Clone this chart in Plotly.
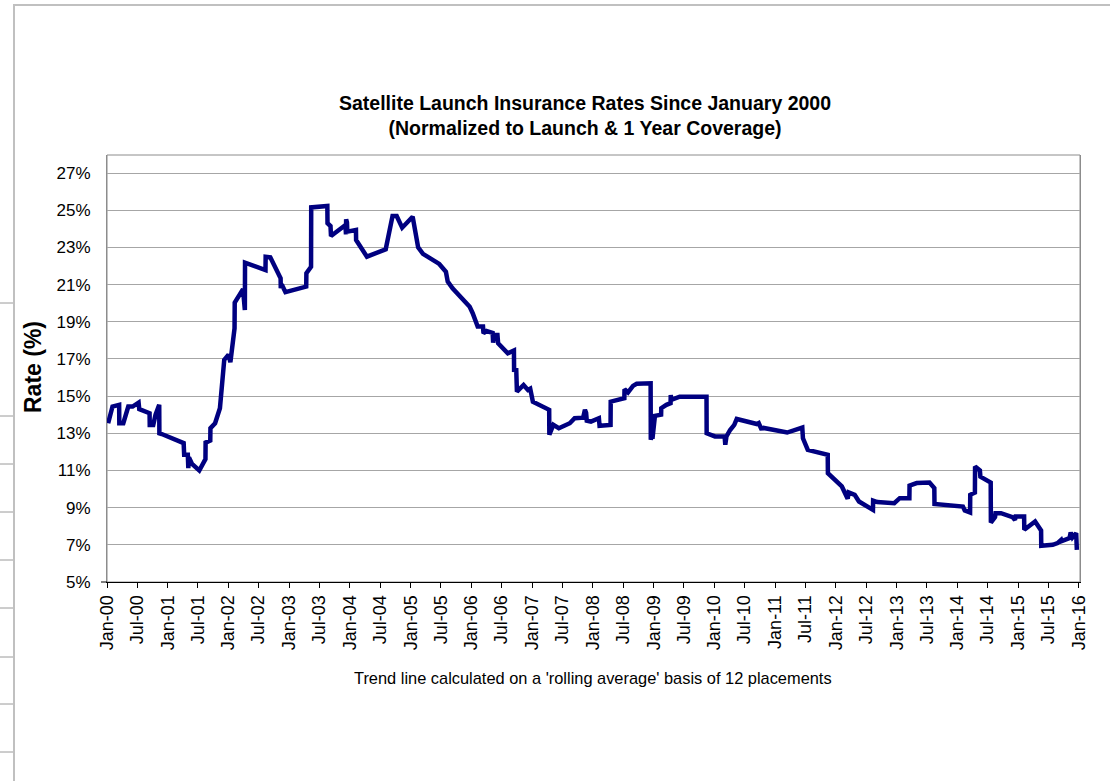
import plotly.graph_objects as go

dates = [
    "2000-01-08", "2000-02-03", "2000-03-14", "2000-03-15", "2000-04-08", "2000-05-08",
    "2000-06-03", "2000-07-09", "2000-07-13", "2000-09-13", "2000-09-14", "2000-10-05",
    "2000-10-19", "2000-11-10", "2000-11-11", "2000-11-25",
    "2001-04-06", "2001-04-09", "2001-05-01", "2001-05-04", "2001-05-08", "2001-05-26",
    "2001-07-09", "2001-08-15", "2001-08-16", "2001-09-13", "2001-09-14", "2001-10-12",
    "2001-11-10", "2001-12-06",
    "2002-01-01", "2002-01-12", "2002-02-06", "2002-02-07", "2002-03-29", "2002-04-09",
    "2002-04-10", "2002-08-11", "2002-08-12", "2002-09-09", "2002-11-10", "2002-11-11",
    "2002-11-17", "2002-12-09",
    "2003-04-13", "2003-04-14", "2003-05-12", "2003-05-13", "2003-08-18", "2003-08-19",
    "2003-09-06", "2003-09-09", "2003-11-03", "2003-12-05", "2003-12-08", "2003-12-09",
    "2003-12-14", "2003-12-16",
    "2004-02-06", "2004-02-07", "2004-04-12", "2004-08-03", "2004-09-13", "2004-10-08",
    "2004-11-10",
    "2005-01-12", "2005-02-14", "2005-03-15", "2005-06-21", "2005-07-31", "2005-08-11",
    "2005-09-09", "2005-12-21",
    "2006-01-08", "2006-01-15", "2006-02-07", "2006-03-11", "2006-03-14", "2006-04-01",
    "2006-05-08", "2006-05-11", "2006-05-15", "2006-06-06", "2006-06-10", "2006-08-07",
    "2006-09-13", "2006-09-14", "2006-09-27", "2006-10-01", "2006-11-10", "2006-12-06",
    "2006-12-20",
    "2007-01-05", "2007-04-13", "2007-04-14", "2007-05-08", "2007-06-10", "2007-08-15",
    "2007-09-13", "2007-11-03", "2007-11-14", "2007-11-21", "2007-11-25", "2007-12-20",
    "2008-02-06", "2008-02-10", "2008-04-16", "2008-04-17", "2008-07-08", "2008-07-09",
    "2008-07-30", "2008-08-29", "2008-09-20", "2008-12-13", "2008-12-14", "2008-12-20",
    "2008-12-24",
    "2009-01-08", "2009-02-14", "2009-02-15", "2009-03-18", "2009-04-12", "2009-04-13",
    "2009-04-16", "2009-06-06", "2009-11-14", "2009-11-15",
    "2010-01-04", "2010-03-03", "2010-03-07", "2010-03-14", "2010-04-05", "2010-04-30",
    "2010-05-15", "2010-09-13", "2010-09-24", "2010-10-12", "2010-10-16",
    "2011-03-14", "2011-06-13", "2011-06-17", "2011-07-16", "2011-11-13", "2011-11-14",
    "2012-02-06", "2012-03-12", "2012-03-18", "2012-04-23", "2012-05-19", "2012-08-11",
    "2012-08-12", "2012-09-06", "2012-12-17",
    "2013-01-19", "2013-03-18", "2013-03-19", "2013-05-01", "2013-07-17", "2013-08-15",
    "2013-08-16",
    "2014-02-03", "2014-02-14", "2014-03-18", "2014-03-19", "2014-04-16", "2014-04-17",
    "2014-05-16", "2014-05-19", "2014-07-20", "2014-07-21", "2014-08-15", "2014-08-18",
    "2014-09-20", "2014-11-28", "2014-12-13", "2014-12-17",
    "2015-02-06", "2015-02-07", "2015-04-13", "2015-05-19", "2015-05-20", "2015-07-28",
    "2015-08-26", "2015-09-17", "2015-09-20", "2015-11-06", "2015-11-13", "2015-11-24",
    "2015-12-16", "2015-12-20",
]

rates = [
    13.54, 14.44, 14.53, 13.54, 13.54, 14.44,
    14.44, 14.65, 14.30, 14.08, 13.45, 13.45,
    14.00, 14.53, 13.00, 12.96,
    12.47, 11.84, 11.84, 11.12, 11.70, 11.35,
    11.00, 11.61, 12.50, 12.61, 13.27, 13.54,
    14.35, 16.95,
    17.22, 16.82, 18.65, 20.03, 20.75, 19.63,
    22.18, 21.78, 22.50, 22.47, 21.34, 20.80,
    21.00, 20.59,
    20.89, 21.61, 21.96, 25.15, 25.23, 24.30,
    24.15, 23.61, 23.94, 24.20, 23.70, 24.51,
    24.35, 23.85,
    23.94, 23.40, 22.50, 22.90, 24.69, 24.69,
    24.06,
    24.65, 23.00, 22.65, 22.11, 21.69, 21.16,
    20.80, 19.81,
    19.46, 19.30, 18.74, 18.74, 18.38, 18.50,
    18.40, 17.87, 18.29, 18.29, 17.84, 17.30,
    17.45, 16.41, 16.40, 15.24, 15.60, 15.33,
    15.40,
    14.70, 14.26, 12.92, 13.45, 13.27, 13.54,
    13.81, 13.84, 14.26, 14.10, 13.68, 13.63,
    13.81, 13.40, 13.45, 14.70, 14.89, 15.37,
    15.20, 15.55, 15.66, 15.69, 12.65, 13.00,
    12.70,
    13.94, 14.00, 14.35, 14.53, 14.62, 15.06,
    14.80, 14.97, 14.97, 13.00,
    12.83, 12.83, 12.38, 12.83, 13.18, 13.45,
    13.77, 13.50, 13.55, 13.18, 13.30,
    13.04, 13.31, 12.73, 12.11, 11.84, 10.85,
    10.14, 9.48, 9.82, 9.69, 9.33, 8.88,
    9.38, 9.30, 9.24,
    9.51, 9.51, 10.19, 10.32, 10.35, 10.05,
    9.20,
    9.06, 8.85, 8.74, 9.69, 9.81, 11.21,
    11.00, 10.67, 10.35, 8.20, 8.49, 8.70,
    8.70, 8.49, 8.34, 8.52,
    8.52, 7.81, 8.25, 7.77, 6.95, 7.00,
    7.09, 7.27, 7.20, 7.36, 7.66, 7.40,
    7.63, 6.73,
]

y_ticks = [5, 7, 9, 11, 13, 15, 17, 19, 21, 23, 25, 27]

title_lines = ["Satellite Launch Insurance Rates Since January 2000",
               "(Normalized to Launch & 1 Year Coverage)"]
y_title = "Rate (%)"
footnote = "Trend line calculated on a 'rolling average' basis of 12 placements"

FONT = "Liberation Sans, Arial, sans-serif"

fig = go.Figure()
fig.add_trace(go.Scatter(
    x=dates, y=rates, mode="lines",
    line=dict(color="#000080", width=4.5),
    showlegend=False, hoverinfo="x+y",
))

L, R, T, B = 107, 30, 155, 199
W, H = 1110, 781
pw, ph = W - L - R, H - T - B


def px(xp):
    return (xp - L) / pw


def py(yp):
    return (H - B - yp) / ph


shapes = []
# outer chart border (spreadsheet chart frame)
shapes.append(dict(type="rect", xref="paper", yref="paper",
                   x0=px(14), x1=px(1125), y0=py(5), y1=py(800),
                   line=dict(color="#c0c0c0", width=2), layer="below"))
# spreadsheet cell lines at the far left
for yy in [303, 416, 464, 512, 560, 608, 657, 704, 752]:
    shapes.append(dict(type="line", xref="paper", yref="paper",
                       x0=px(0), x1=px(13), y0=py(yy), y1=py(yy),
                       line=dict(color="#9a9a9a", width=1)))
# small extension of the x axis line left of the y axis
shapes.append(dict(type="line", xref="paper", yref="paper",
                   x0=px(101), x1=px(107), y0=0, y1=0,
                   line=dict(color="#000000", width=1)))

fig.update_layout(
    width=W, height=H, autosize=False,
    margin=dict(l=L, r=R, t=T, b=B),
    paper_bgcolor="white", plot_bgcolor="white",
    font=dict(family=FONT, color="#000000"),
    title=dict(text="<b>" + title_lines[0] + "</b><br><b>" + title_lines[1] + "</b>",
               x=585 / W, xref="container", xanchor="center",
               y=1 - 110 / H, yref="container", yanchor="middle",
               font=dict(family=FONT, size=19.5, color="#000000")),
    xaxis=dict(
        type="date",
        range=["2000-01-01", "2016-01-08"],
        tick0="2000-01-01", dtick="M6", tickformat="%b-%y",
        tickangle=-90, ticks="outside", ticklen=5, tickcolor="#000000",
        tickfont=dict(family=FONT, size=18, color="#000000"),
        showgrid=False, showline=True, linecolor="#000000", linewidth=1,
        mirror=False, zeroline=False,
    ),
    yaxis=dict(
        range=[5, 27.97], tickvals=y_ticks,
        ticktext=[f"{v}%" for v in y_ticks],
        tickfont=dict(family=FONT, size=17, color="#000000"),
        ticklabelstandoff=12,
        showgrid=True, gridcolor="#a6a6a6", gridwidth=1,
        showline=True, linecolor="#8c8c8c", linewidth=1, mirror=True,
        ticks="", zeroline=False,
    ),
    shapes=shapes,
    annotations=[
        dict(text="<b>" + y_title + "</b>", xref="paper", yref="paper",
             x=px(33), y=py(367), xanchor="center", yanchor="middle",
             textangle=-90, showarrow=False,
             font=dict(family=FONT, size=23, color="#000000")),
        dict(text=footnote, xref="paper", yref="paper",
             x=px(593), y=py(678), xanchor="center", yanchor="middle",
             showarrow=False, font=dict(family=FONT, size=16.4, color="#000000")),
    ],
)

fig.add_shape(type="rect", xref="paper", yref="paper", x0=0, x1=1, y0=0, y1=1,
              line=dict(color="#8c8c8c", width=1), layer="below")

fig.write_html("out.html")
